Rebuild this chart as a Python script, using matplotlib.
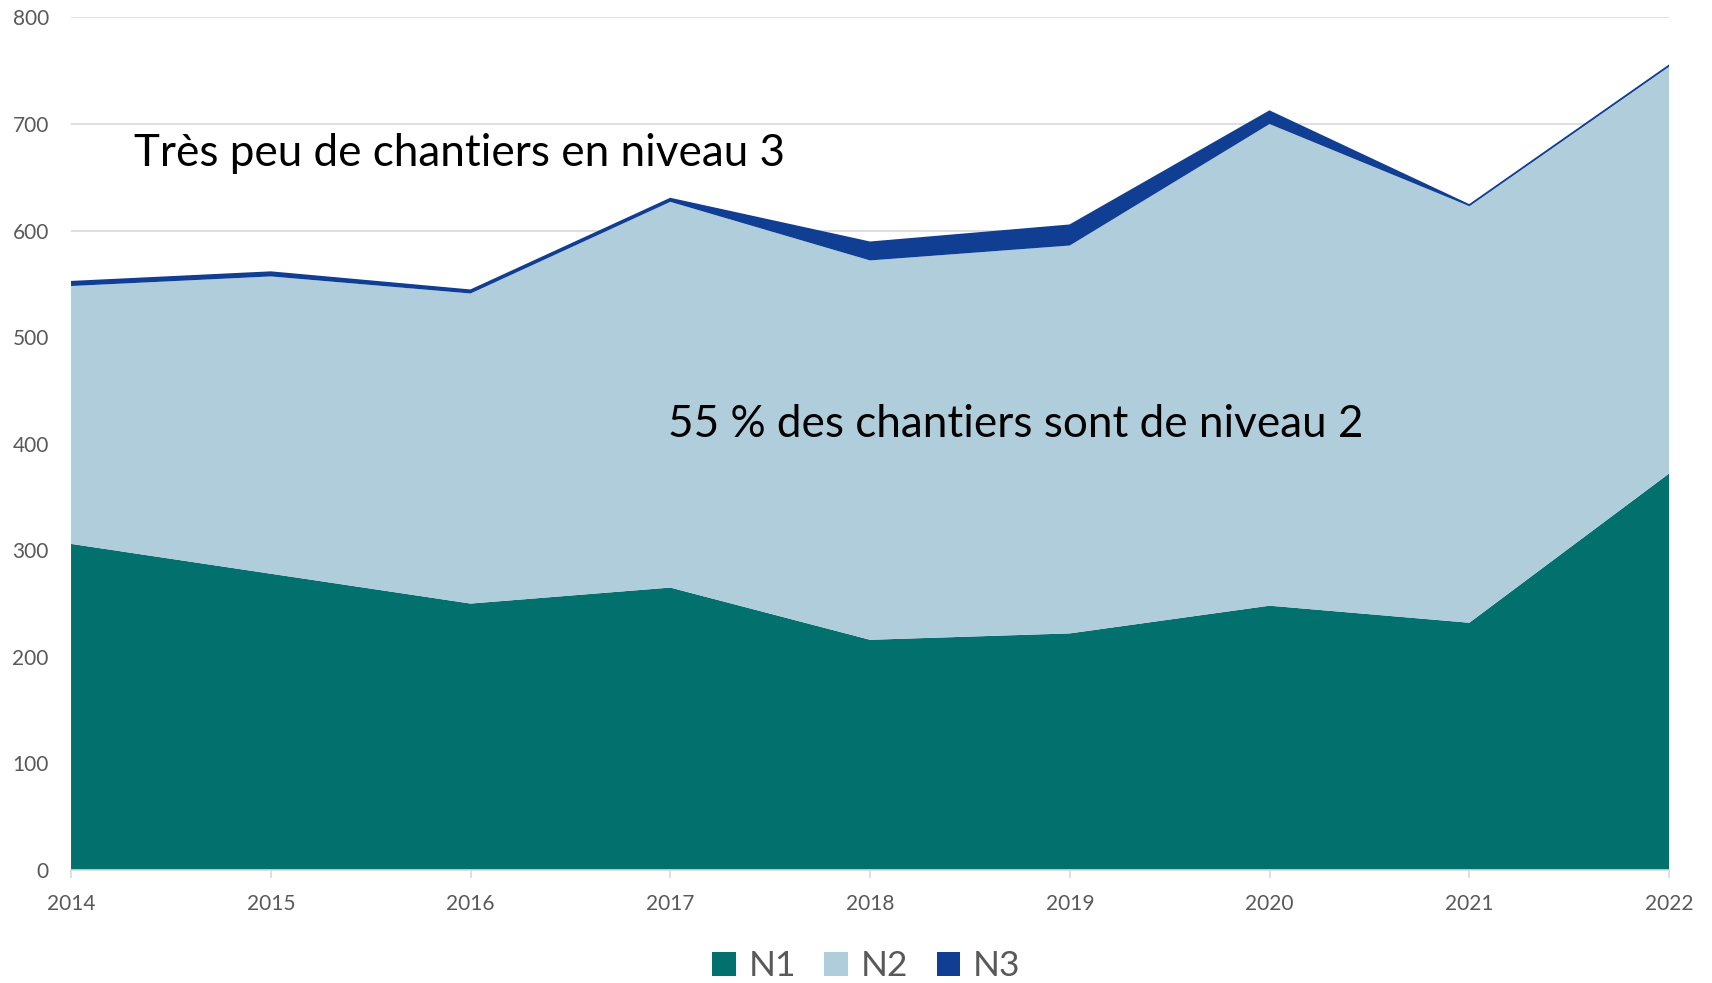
import matplotlib
matplotlib.use("Agg")
import matplotlib.pyplot as plt
from matplotlib.patches import Patch

plt.rcParams['font.family'] = ['Lato', 'DejaVu Sans']

# === Données ===
annees = [2014, 2015, 2016, 2017, 2018, 2019, 2020, 2021, 2022]
n1 = [306, 278, 250, 265, 216, 222, 248, 232, 372]
n2 = [242, 279, 291, 362, 356, 364, 452, 391, 382]
n3 = [4, 4, 3, 3, 17, 19, 12, 1, 1]
noms = ["N1", "N2", "N3"]
couleurs = ["#02706C", "#AFCDDA", "#0F3E92"]
y_ticks = [0, 100, 200, 300, 400, 500, 600, 700, 800]

gris = "#595959"
gris_clair = "#D9D9D9"

# === Figure ===
fig = plt.figure(figsize=(17.12, 9.83), dpi=100)
ax = fig.add_axes([0.0415, 0.115, 0.9334, 0.8672])

ax.stackplot(annees, n1, n2, n3, colors=couleurs,
             edgecolor=None, linewidth=0)
# contour fin de N3 (visible même quand la valeur est ~0)
haut = [a + b + c for a, b, c in zip(n1, n2, n3)]
ax.plot(annees, haut, color=couleurs[2], lw=1.2, solid_joinstyle='miter')

ax.set_xlim(annees[0], annees[-1])
ax.set_ylim(0, 800)
ax.set_xticks(annees)
ax.set_yticks(y_ticks)
ax.grid(axis='y', color=gris_clair, lw=1.2)
ax.set_axisbelow(True)

for s in ["top", "right", "left"]:
    ax.spines[s].set_visible(False)
ax.spines["bottom"].set_color(gris_clair)
ax.spines["bottom"].set_linewidth(1.2)
ax.spines["bottom"].set_zorder(5)

ax.tick_params(axis='y', length=0, pad=16, labelsize=15, labelcolor=gris)
ax.tick_params(axis='x', length=6, width=1.2, color=gris_clair, pad=11,
               labelsize=15, labelcolor=gris)

# === Annotations ===
ax.text(2014.315, 661, "Très peu de chantiers en niveau 3", fontsize=31.7,
        color="black", va='baseline', ha='left')
ax.text(2016.99, 406, "55 % des chantiers sont de niveau 2", fontsize=31.7,
        color="black", va='baseline', ha='left')

# === Légende ===
handles = [Patch(facecolor=c, edgecolor='none') for c in couleurs]
fig.legend(handles, noms, loc='center', bbox_to_anchor=(0.506, 0.017),
           ncol=3, frameon=False, fontsize=25.5, labelcolor=gris,
           handlelength=0.67, handleheight=0.67, handletextpad=0.36,
           columnspacing=0.8, borderpad=0)

fig.savefig("out.png", dpi=100)
